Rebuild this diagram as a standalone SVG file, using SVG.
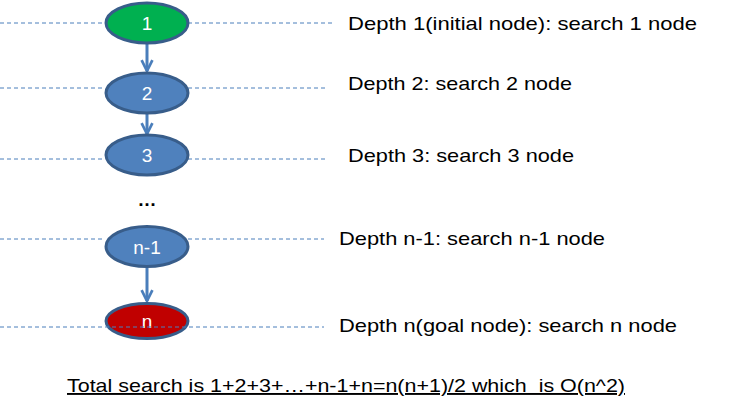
<svg xmlns="http://www.w3.org/2000/svg" width="735" height="414" viewBox="0 0 735 414">
<defs>
<style>
.dash{stroke:#4A7EBB;stroke-width:1;stroke-dasharray:4 3;fill:none}
.node{stroke:#385D8A;stroke-width:3}
.lbl{font-family:"Liberation Sans",Arial,sans-serif;font-size:19px;fill:#fff;text-anchor:middle}
.txt{font-family:"Liberation Sans",Arial,sans-serif;font-size:19px;fill:#000}
.edge{stroke:#4A7EBB;stroke-width:3;fill:none}
</style>
<marker id="ah" viewBox="0 0 10 10" refX="9" refY="5" markerWidth="4.5" markerHeight="4.5" orient="auto" markerUnits="strokeWidth">
<path d="M1,1 L9,5 L1,9" fill="none" stroke="#4A7EBB" stroke-width="2"/>
</marker>
</defs>
<rect width="735" height="414" fill="#fff"/>
<g id="guides">
<line class="dash" x1="0" y1="23" x2="105" y2="23"/><line class="dash" x1="188" y1="23" x2="335" y2="23"/>
<line class="dash" x1="0" y1="88" x2="105" y2="88"/><line class="dash" x1="188" y1="88" x2="328" y2="88"/>
<line class="dash" x1="0" y1="159" x2="105" y2="159"/><line class="dash" x1="188" y1="159" x2="328" y2="159"/>
<line class="dash" x1="0" y1="239" x2="105" y2="239"/><line class="dash" x1="188" y1="239" x2="324" y2="239"/>
</g>
<g id="connectors">
<line class="edge" x1="147" y1="44" x2="147" y2="71" marker-end="url(#ah)"/>
<line class="edge" x1="147" y1="114" x2="147" y2="134" marker-end="url(#ah)"/>
<line class="edge" x1="147" y1="268" x2="147" y2="301" marker-end="url(#ah)"/>
</g>
<g id="node1"><ellipse class="node" cx="147" cy="23" rx="41" ry="20" fill="#00B050"/><text class="lbl" x="147" y="30">1</text></g>
<g id="node2"><ellipse class="node" cx="147" cy="93" rx="41" ry="20" fill="#4F81BD"/><text class="lbl" x="147" y="100">2</text></g>
<g id="node3"><ellipse class="node" cx="147" cy="155" rx="41" ry="20" fill="#4F81BD"/><text class="lbl" x="147" y="162">3</text></g>
<g id="nodeDots"><text class="txt" x="147" y="206" text-anchor="middle" font-size="16" font-weight="bold">…</text></g>
<g id="nodeN1"><ellipse class="node" cx="147" cy="246.5" rx="41" ry="20" fill="#4F81BD"/><text class="lbl" x="147" y="253.5">n-1</text></g>
<g id="nodeN"><ellipse class="node" cx="147" cy="321" rx="41" ry="17.5" fill="#C00000"/><text class="lbl" x="147" y="328">n</text></g>
<g id="guideN"><line class="dash" x1="0" y1="327" x2="324" y2="327"/></g>
<g id="labels">
<text class="txt" x="348" y="30" textLength="349" lengthAdjust="spacingAndGlyphs">Depth 1(initial node): search 1 node</text>
<text class="txt" x="348" y="90" textLength="224" lengthAdjust="spacingAndGlyphs">Depth 2: search 2 node</text>
<text class="txt" x="348" y="162" textLength="226" lengthAdjust="spacingAndGlyphs">Depth 3: search 3 node</text>
<text class="txt" x="339" y="245" textLength="266" lengthAdjust="spacingAndGlyphs">Depth n-1: search n-1 node</text>
<text class="txt" x="339" y="332" textLength="338" lengthAdjust="spacingAndGlyphs">Depth n(goal node): search n node</text>
<text class="txt" x="67" y="392" textLength="558" lengthAdjust="spacingAndGlyphs" text-decoration="underline" xml:space="preserve">Total search is 1+2+3+…+n-1+n=n(n+1)/2 which  is O(n^2)</text>
</g>
</svg>
